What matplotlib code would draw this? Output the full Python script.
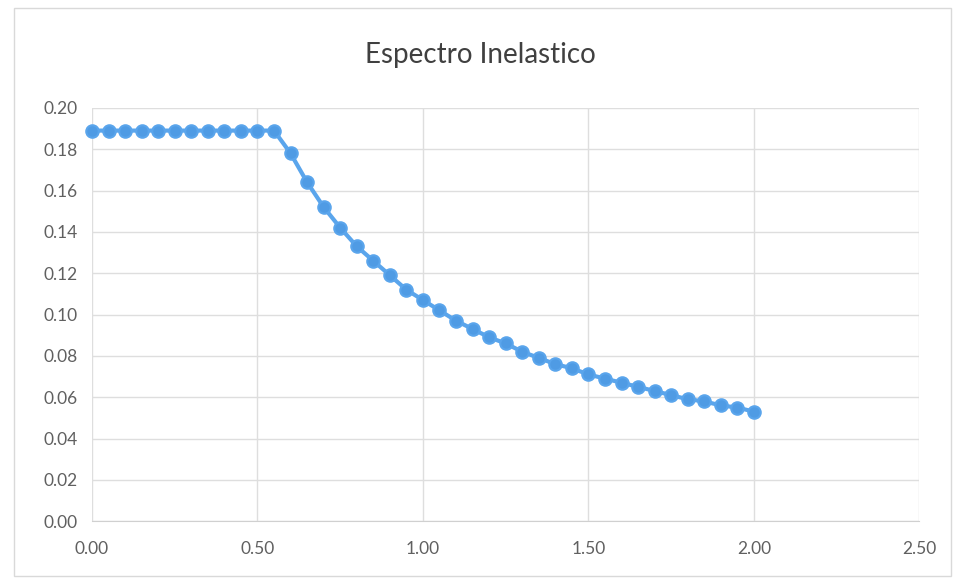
import matplotlib
matplotlib.use("Agg")
from matplotlib import pyplot as plt
from matplotlib.patches import Rectangle

periodo = [0.00, 0.05, 0.10, 0.15, 0.20, 0.25, 0.30, 0.35, 0.40, 0.45, 0.50, 0.55,
           0.60, 0.65, 0.70, 0.75, 0.80, 0.85, 0.90, 0.95, 1.00,
           1.05, 1.10, 1.15, 1.20, 1.25, 1.30, 1.35, 1.40, 1.45, 1.50,
           1.55, 1.60, 1.65, 1.70, 1.75, 1.80, 1.85, 1.90, 1.95, 2.00]
sa = [0.189, 0.189, 0.189, 0.189, 0.189, 0.189, 0.189, 0.189, 0.189, 0.189, 0.189, 0.189,
      0.178, 0.164, 0.152, 0.142, 0.133, 0.126, 0.119, 0.112, 0.107,
      0.102, 0.097, 0.093, 0.089, 0.086, 0.082, 0.079, 0.076, 0.074, 0.071,
      0.069, 0.067, 0.065, 0.063, 0.061, 0.059, 0.058, 0.056, 0.055, 0.053]
xticks = [0.0, 0.5, 1.0, 1.5, 2.0, 2.5]
yticks = [0.00, 0.02, 0.04, 0.06, 0.08, 0.10, 0.12, 0.14, 0.16, 0.18, 0.20]

plt.rcParams['font.family'] = ['Lato', 'DejaVu Sans']

fig = plt.figure(figsize=(9.61, 5.83), dpi=100)
ax = fig.add_axes([0.0957, 0.106, 0.861, 0.709])

ax.plot(periodo, sa, color='#5aa5ec', lw=3, marker='o', ms=9,
        mfc='#4f9be4', mec='#5aa5ec', mew=1.5, zorder=3, clip_on=False)

ax.set_xlim(0, 2.5)
ax.set_ylim(0, 0.20)
ax.set_xticks(xticks)
ax.set_yticks(yticks)
ax.set_xticklabels(['%.2f' % v for v in xticks])
ax.set_yticklabels(['%.2f' % v for v in yticks])
ax.grid(True, color='#dedede', lw=1)
ax.set_axisbelow(True)
for s in ['top', 'right', 'left']:
    ax.spines[s].set_visible(False)
ax.spines['bottom'].set_color('#d0d0d0')
ax.tick_params(length=0, labelsize=12.5, labelcolor='#606060', pad=10)
ax.tick_params(axis='x', pad=14)

fig.text(0.5, 0.905, 'Espectro Inelastico', ha='center', va='center',
         fontsize=20, color='#404040')

fig.patches.append(Rectangle((0.015, 0.012), 0.975, 0.975, transform=fig.transFigure,
                             fill=False, edgecolor='#d9d9d9', lw=1))

fig.savefig('out.png', dpi=100)
